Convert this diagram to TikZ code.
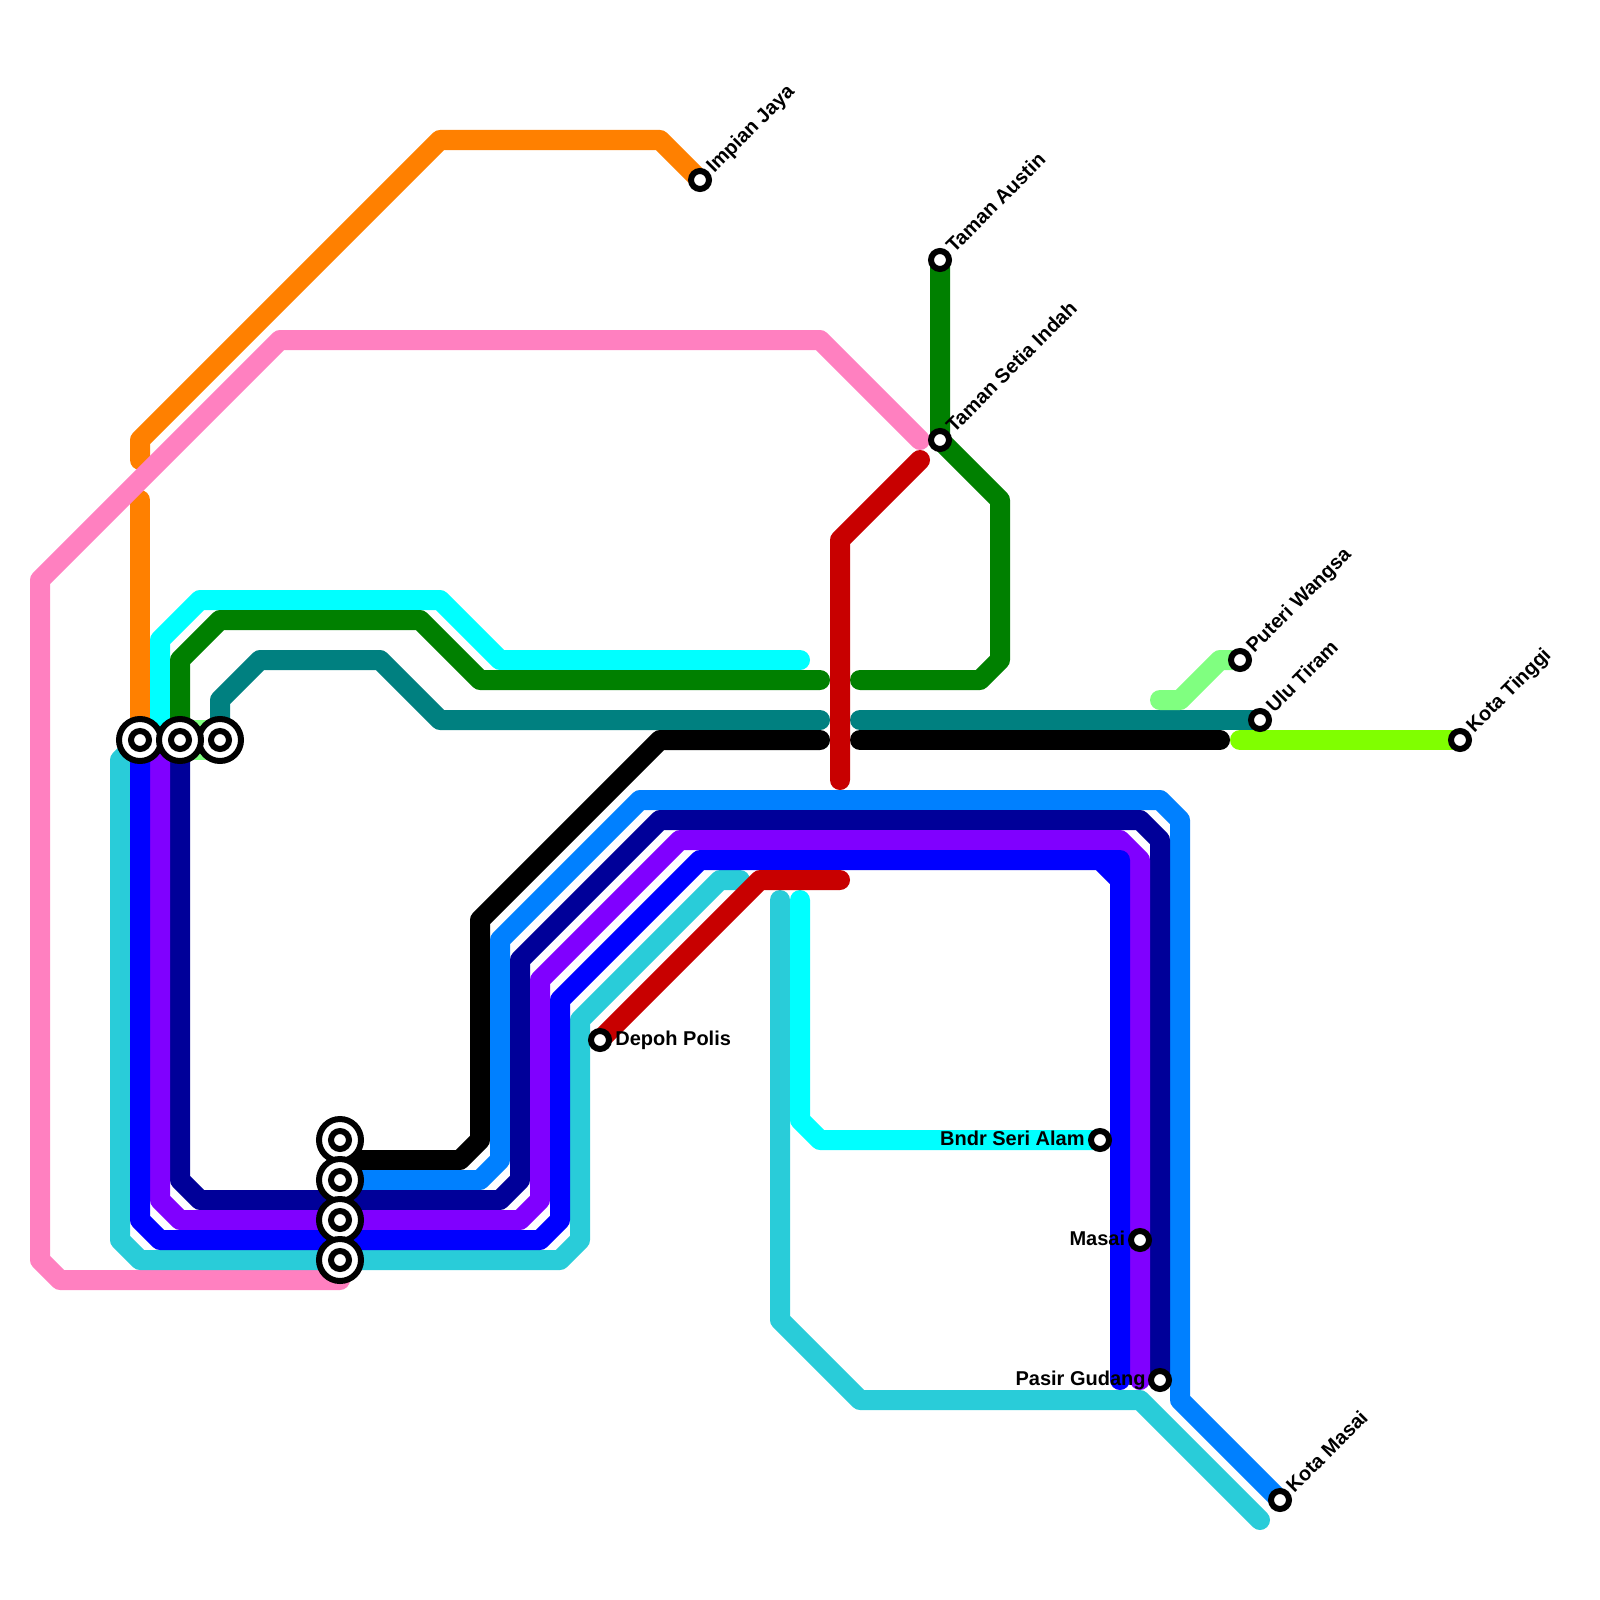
\documentclass[tikz,border=0pt]{standalone}
\usepackage{fontspec}
\setmainfont{Liberation Sans}
\usetikzlibrary{backgrounds}
\definecolor{lineorange}{HTML}{FF8000}
\definecolor{linepink}{HTML}{FF80C0}
\definecolor{linecyan}{HTML}{00FFFF}
\definecolor{linegreen}{HTML}{008000}
\definecolor{lineteal}{HTML}{008080}
\definecolor{linelime}{HTML}{80FF00}
\definecolor{linemint}{HTML}{80FF80}
\definecolor{lineazure}{HTML}{0080FF}
\definecolor{linenavy}{HTML}{000099}
\definecolor{linepurple}{HTML}{8000FF}
\definecolor{lineblue}{HTML}{0000FF}
\definecolor{lineturq}{HTML}{29CCD9}
\definecolor{linered}{HTML}{C80000}
\tikzset{
  route/.style={line width=10pt,line cap=round,line join=round},
  station/.style={circle,draw=black,fill=white,line width=3pt,minimum size=9pt,inner sep=0pt,outer sep=0pt},
  hub/.style={circle,draw=black,fill=white,line width=3pt,minimum size=21pt,inner sep=0pt,outer sep=0pt},
  namelabel/.style={font=\bfseries\fontsize{10pt}{12pt}\selectfont,inner sep=0pt},
  nameright/.style={namelabel,anchor=base west},
  nameleft/.style={namelabel,anchor=base east},
  nameup/.style={namelabel,anchor=base west,rotate=45}
}
\begin{document}
\begin{tikzpicture}[x=0.5pt,y=-0.5pt]
  \useasboundingbox (0,0) rectangle (1600,1600);

  \node[hub] (hubWest) at (220,740) {};
  \node[station] (hubWestIn) at (hubWest) {};
  \node[hub] (hubOrange) at (140,740) {};
  \node[station] (hubOrangeIn) at (hubOrange) {};
  \node[hub] (hubGreen) at (180,740) {};
  \node[station] (hubGreenIn) at (hubGreen) {};

  \node[hub] (hubBlack) at (340,1140) {};
  \node[station] (hubBlackIn) at (hubBlack) {};
  \node[hub] (hubAzure) at (340,1180) {};
  \node[station] (hubAzureIn) at (hubAzure) {};
  \node[hub] (hubPurple) at (340,1220) {};
  \node[station] (hubPurpleIn) at (hubPurple) {};
  \node[hub] (hubTurq) at (340,1260) {};
  \node[station] (hubTurqIn) at (hubTurq) {};

  \node[station] (impian) at (700,180) {};
  \node[station] (austin) at (940,260) {};
  \node[station] (setia) at (940,440) {};
  \node[station] (puteri) at (1240,660) {};
  \node[station] (ulu) at (1260,720) {};
  \node[station] (tinggi) at (1460,740) {};
  \node[station] (depoh) at (600,1040) {};
  \node[station] (seri) at (1100,1140) {};
  \node[station] (masai) at (1140,1240) {};
  \node[station] (gudang) at (1160,1380) {};
  \node[station] (kotaMasai) at (1280,1500) {};

  \coordinate (orangeEnd) at (140,460);
  \coordinate (orangeStart) at (140,500);
  \coordinate (pinkEnd) at (920,440);
  \coordinate (pinkStart) at (340,1280);
  \coordinate (cyanRoot) at (160,740);
  \coordinate (cyanEnd) at (800,660);
  \coordinate (cyanStart) at (800,900);
  \coordinate (greenEnd) at (820,680);
  \coordinate (greenStart) at (860,680);
  \coordinate (tealEnd) at (820,720);
  \coordinate (tealStart) at (860,720);
  \coordinate (blackEnd) at (820,740);
  \coordinate (blackStart) at (860,740);
  \coordinate (blackTail) at (1220,740);
  \coordinate (blackHead) at (340,1160);
  \coordinate (limeStart) at (1240,740);
  \coordinate (mintStart) at (1160,700);
  \coordinate (turqEnd) at (740,880);
  \coordinate (turqStart) at (780,900);
  \coordinate (turqTail) at (1260,1520);
  \coordinate (redEnd) at (840,880);
  \coordinate (redTop) at (920,460);
  \coordinate (redFoot) at (840,780);
  \coordinate (purpleRoot) at (160,740);
  \coordinate (purpleEnd) at (1140,1380);
  \coordinate (blueEnd) at (1120,1380);

  \begin{scope}[on background layer]
    \fill[linemint] (180,720) rectangle (220,760);

    \draw[route,lineorange] (hubOrange.center) -- (orangeStart);
    \draw[route,lineorange] (orangeEnd) -- (140,440) -- (440,140) -- (660,140) -- (impian.center);
    \draw[route,linepink] (pinkStart) -- (60,1280) -- (40,1260) -- (40,580) -- (280,340) -- (820,340) -- (pinkEnd);
    \draw[route,linecyan] (cyanRoot) -- (160,640) -- (200,600) -- (440,600) -- (500,660) -- (cyanEnd);
    \draw[route,linegreen] (hubGreen.center) -- (180,660) -- (220,620) -- (420,620) -- (480,680) -- (greenEnd);
    \draw[route,linegreen] (greenStart) -- (980,680) -- (1000,660) -- (1000,500) -- (setia.center) -- (austin.center);
    \draw[route,lineteal] (hubWest.center) -- (220,700) -- (260,660) -- (380,660) -- (440,720) -- (tealEnd);
    \draw[route,lineteal] (tealStart) -- (ulu.center);
    \draw[route,black] (blackHead) -- (460,1160) -- (480,1140) -- (480,920) -- (660,740) -- (blackEnd);
    \draw[route,black] (blackStart) -- (blackTail);
    \draw[route,linelime] (limeStart) -- (tinggi.center);
    \draw[route,linemint] (mintStart) -- (1180,700) -- (1220,660) -- (puteri.center);
    \draw[route,lineturq] (hubOrange.center) -- (120,760) -- (120,1240) -- (140,1260) -- (560,1260) -- (580,1240) -- (580,1020) -- (720,880) -- (turqEnd);
    \draw[route,lineturq] (turqStart) -- (780,1320) -- (860,1400) -- (1140,1400) -- (turqTail);
    \draw[route,lineazure] (hubAzure.center) -- (480,1180) -- (500,1160) -- (500,940) -- (640,800) -- (1160,800) -- (1180,820) -- (1180,1400) -- (kotaMasai.center);
    \draw[route,linenavy] (hubGreen.center) -- (180,1180) -- (200,1200) -- (500,1200) -- (520,1180) -- (520,960) -- (660,820) -- (1140,820) -- (1160,840) -- (gudang.center);
    \draw[route,linepurple] (purpleRoot) -- (160,1200) -- (180,1220) -- (520,1220) -- (540,1200) -- (540,980) -- (680,840) -- (1120,840) -- (1140,860) -- (purpleEnd);
    \draw[route,lineblue] (hubOrange.center) -- (140,1220) -- (160,1240) -- (540,1240) -- (560,1220) -- (560,1000) -- (700,860) -- (1120,860) -- (blueEnd) (1100,860) -- (1120,880);
    \draw[route,linecyan] (cyanStart) -- (800,1120) -- (820,1140) -- (seri.center);
    \draw[route,linered] (depoh.center) -- (760,880) -- (redEnd);
    \draw[route,linered] (redFoot) -- (840,540) -- (redTop);
  \end{scope}

  \node[nameup] (impianName) at ([shift={(14,-6)}]impian.center) {Impian Jaya};
  \node[nameup] (austinName) at ([shift={(14,-6)}]austin.center) {Taman Austin};
  \node[nameup] (setiaName) at ([shift={(14,-6)}]setia.center) {Taman Setia Indah};
  \node[nameup] (puteriName) at ([shift={(14,-6)}]puteri.center) {Puteri Wangsa};
  \node[nameup] (uluName) at ([shift={(14,-6)}]ulu.center) {Ulu Tiram};
  \node[nameup] (tinggiName) at ([shift={(14,-6)}]tinggi.center) {Kota Tinggi};
  \node[nameup] (kotaMasaiName) at ([shift={(14,-6)}]kotaMasai.center) {Kota Masai};
  \node[nameright] (depohName) at ([shift={(15,5)}]depoh.center) {Depoh Polis};
  \node[nameleft] (seriName) at ([shift={(-15,5)}]seri.center) {Bndr Seri Alam};
  \node[nameleft] (masaiName) at ([shift={(-14.5,5)}]masai.center) {Masai};
  \node[nameleft] (gudangName) at ([shift={(-14,5)}]gudang.center) {Pasir Gudang};
\end{tikzpicture}
\end{document}
